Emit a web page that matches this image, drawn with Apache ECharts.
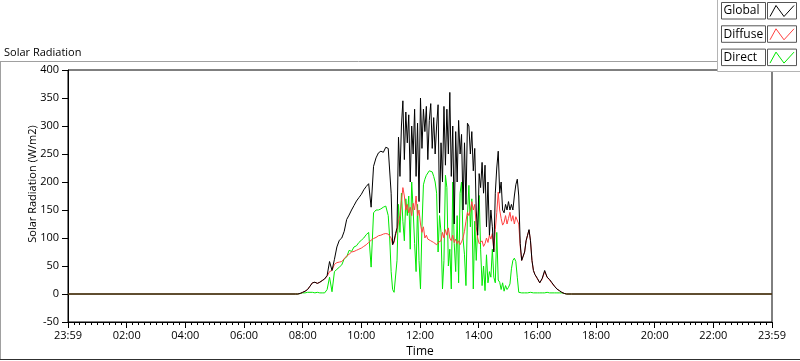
<!DOCTYPE html>
<html>
<head>
<meta charset="utf-8">
<script src="https://cdn.jsdelivr.net/npm/echarts@6.0.0/dist/echarts.min.js"></script>
<style>
  html, body { margin: 0; padding: 0; background: #fff; }
  #chart { width: 800px; height: 361px; }
</style>
</head>
<body>
<div id="chart"></div>
<script>
// minutes after midnight
const times = [
  0, 465,
  470, 475, 480, 485, 490, 495, 500, 505, 510, 515, 520, 525, 530, 535, 540, 545, 550, 555, 560,
  565, 570, 575, 580, 585, 590, 595, 600, 605, 610, 615, 620, 625, 630, 635, 640, 645, 650, 655,
  658, 661, 664, 667, 670, 673, 676, 679, 682, 685,
  688, 691, 694, 697, 700, 703, 706, 709, 712, 715,
  718, 721, 724, 727, 730, 733, 736, 739, 742, 745,
  748, 751, 754, 757, 760, 763, 766, 769, 772, 775,
  778, 781, 784, 787, 790, 793, 796, 799, 802, 805,
  808, 811, 814, 817, 820, 823, 826, 829, 832, 835,
  838, 841, 844, 847, 850, 853, 856, 859, 862, 865,
  868, 871, 874, 877, 880, 883, 886, 889, 892, 895,
  898, 901, 904, 907, 910, 913, 916, 919, 922, 925,
  928, 931, 934, 937, 940, 943, 946, 949, 952, 955,
  960, 965, 970, 975, 980, 985, 990, 995, 1000, 1005, 1010, 1015, 1020, 1030, 1440
];

const globalValues = [
  0, 0,
  0, 1, 3, 5, 8, 14, 20, 21, 19, 21, 24, 27, 33, 58, 42, 62, 84, 96, 100,
  112, 133, 141, 150, 158, 166, 172, 178, 186, 192, 197, 155, 228, 243, 252, 255, 253, 262, 260,
  262, 180, 88, 95, 108, 118, 280, 210, 300, 345,
  240, 325, 270, 320, 200, 300, 250, 330, 210, 305,
  165, 350, 260, 330, 290, 335, 240, 310, 340, 260,
  315, 250, 300, 338, 145, 270, 200, 335, 230, 330,
  250, 360, 210, 300, 125, 290, 200, 310, 250, 285,
  150, 270, 160, 305, 300, 250, 290, 220, 260, 150,
  105, 215, 190, 235, 180, 230, 120, 200, 105, 150,
  120, 75, 180, 225, 255, 180, 200, 150, 145, 160,
  150, 165, 150, 160, 150, 175, 195, 205, 175, 90,
  60, 58, 75, 95, 105, 115, 95, 60, 42, 35,
  28, 20, 28, 42, 30, 26, 20, 14, 9, 6, 3, 1, 0, 0, 0
];

const diffuseValues = [
  0, 0,
  0, 1, 3, 5, 8, 14, 20, 21, 19, 21, 24, 27, 32, 40, 42, 53, 56, 57, 58,
  63, 68, 71, 75, 76, 78, 80, 82, 85, 88, 92, 96, 99, 101, 104, 105, 107, 108, 107,
  107, 100, 88, 92, 105, 115, 130, 140, 165, 190,
  175, 150, 160, 145, 155, 140, 162, 150, 175, 140,
  150, 125, 110, 120, 100, 105, 98, 100, 95, 98,
  92, 95, 88, 92, 90, 95, 110, 100, 115, 105,
  118, 100, 95, 105, 92, 98, 90, 95, 88, 93,
  100, 112, 130, 146, 140, 150, 165, 150, 160, 120,
  100, 90, 87, 95, 85, 90, 100, 92, 105, 98,
  108, 78, 115, 145, 182, 150, 135, 123, 128, 140,
  125, 135, 146, 130, 140, 125, 138, 140, 125, 85,
  60, 58, 75, 95, 105, 114, 95, 60, 42, 35,
  27, 20, 27, 40, 30, 25, 19, 14, 9, 6, 3, 1, 0, 0, 0
];

const directValues = [
  0, 0,
  0, 1, 2, 2, 3, 3, 3, 2, 3, 2, 2, 2, 8, 30, 4, 40, 44, 48, 52,
  63, 66, 78, 76, 84, 86, 92, 96, 100, 106, 110, 48, 145, 150, 150, 152, 155, 157, 140,
  100, 40, 8, 3, 5, 60, 160, 110, 180, 130,
  95, 170, 140, 175, 80, 200, 150, 90, 40, 160,
  60, 9, 120, 195, 205, 212, 215, 220, 221, 218,
  210, 200, 180, 75, 140, 110, 9, 60, 212, 190,
  50, 80, 9, 200, 90, 40, 140, 20, 180, 200,
  100, 70, 15, 140, 194, 120, 170, 9, 130, 60,
  60, 176, 80, 15, 50, 6, 70, 20, 40, 30,
  80, 30, 20, 110, 25, 21, 8, 20, 5, 15,
  8, 12, 18, 45, 60, 64, 58, 30, 3, 2,
  2, 2, 2, 2, 2, 3, 3, 2, 2, 2,
  2, 2, 2, 2, 3, 2, 2, 2, 2, 2, 2, 1, 0, 0, 0
];

const seriesNames = ["Global", "Diffuse", "Direct"];
const seriesColors = ["#000000", "#ff4040", "#00e800"];
const timeLabels = ["23:59", "02:00", "04:00", "06:00", "08:00", "10:00", "12:00",
  "14:00", "16:00", "18:00", "20:00", "22:00", "23:59"];

const font = "Open Sans";
const fontSize = 11;
const valueLists = [globalValues, diffuseValues, directValues];

function pairs(values) {
  return times.map((t, i) => [t, values[i]]);
}

// draw Global last so it sits on top
const series = [2, 1, 0].map(i => ({
  name: seriesNames[i],
  type: "line",
  data: pairs(valueLists[i]),
  showSymbol: false,
  symbol: "none",
  silent: true,
  lineStyle: { color: seriesColors[i], width: 1 },
  z: 3 - i,
}));

// legend panel in the top right corner
const legendGraphics = [
  {
    type: "rect",
    z: 100,
    shape: { x: 717.5, y: -1, width: 90, height: 72.5 },
    style: { fill: "#fff", stroke: "#b4b4b4", lineWidth: 1 },
  },
];
seriesNames.forEach((name, i) => {
  const top = 2.5 + i * 23.3;
  legendGraphics.push({
    type: "rect",
    z: 101,
    shape: { x: 721.5, y: top, width: 44, height: 16.5 },
    style: { fill: "#fff", stroke: "#555", lineWidth: 1 },
  });
  legendGraphics.push({
    type: "text",
    z: 102,
    x: 723.5,
    y: top + 8.5,
    style: { text: name, fill: "#000", font: "12px '" + font + "'", verticalAlign: "middle" },
  });
  legendGraphics.push({
    type: "rect",
    z: 101,
    shape: { x: 767.5, y: top, width: 29, height: 16.5 },
    style: { fill: "#fff", stroke: "#555", lineWidth: 1 },
  });
  legendGraphics.push({
    type: "polyline",
    z: 102,
    shape: {
      points: [[770, top + 14], [776, top + 3], [784, top + 14], [794, top + 3]],
    },
    style: { stroke: seriesColors[i], lineWidth: 1, fill: null },
  });
});

// outer frame of the graph control
const frameGraphics = [
  { type: "line", z: 50, shape: { x1: 0, y1: 61.5, x2: 717, y2: 61.5 }, style: { stroke: "#a0a0a0" } },
  { type: "line", z: 50, shape: { x1: 0.5, y1: 61.5, x2: 0.5, y2: 359 }, style: { stroke: "#a0a0a0" } },
  { type: "line", z: 50, shape: { x1: 0, y1: 359.5, x2: 800, y2: 359.5 }, style: { stroke: "#303030" } },
];

const chart = echarts.init(document.getElementById("chart"));
chart.setOption({
  animation: false,
  textStyle: { fontFamily: font },
  title: {
    text: "Solar Radiation",
    left: 0,
    top: 42,
    padding: [5, 5, 5, 4],
    textStyle: { fontSize: fontSize, fontWeight: "normal", color: "#000", fontFamily: font },
  },
  grid: {
    left: 68,
    right: 28,
    top: 70,
    bottom: 39,
    show: true,
    borderColor: "#000",
    borderWidth: 1,
    outerBoundsMode: "none",
  },
  xAxis: {
    type: "value",
    min: 0,
    max: 1440,
    interval: 120,
    name: "Time",
    nameLocation: "middle",
    nameGap: 24,
    nameMoveOverlap: false,
    nameTextStyle: { color: "#000", fontSize: 12, fontFamily: font },
    axisLine: { onZero: false, lineStyle: { color: "#000" } },
    axisTick: { length: 6, lineStyle: { color: "#000" } },
    minorTick: { show: true, splitNumber: 10, length: 3, lineStyle: { color: "#000" } },
    axisLabel: {
      margin: 8,
      color: "#000",
      fontSize: fontSize,
      fontFamily: font,
      showMinLabel: true,
      showMaxLabel: true,
      formatter: v => timeLabels[Math.round(v / 120)],
    },
    splitLine: { show: false },
    minorSplitLine: { show: false },
  },
  yAxis: {
    type: "value",
    min: -50,
    max: 400,
    interval: 50,
    name: "Solar Radiation (W/m2)",
    nameLocation: "middle",
    nameGap: 30,
    nameMoveOverlap: false,
    nameTextStyle: { color: "#000", fontSize: fontSize, fontFamily: font, padding: [0, 0, 0, 24] },
    axisLine: { onZero: false, lineStyle: { color: "#000" } },
    axisTick: { length: 6, lineStyle: { color: "#000" } },
    axisLabel: { margin: 9, color: "#000", fontSize: fontSize, fontFamily: font },
    splitLine: { show: false },
  },
  series: series,
  graphic: frameGraphics.concat(legendGraphics),
});
</script>
</body>
</html>
